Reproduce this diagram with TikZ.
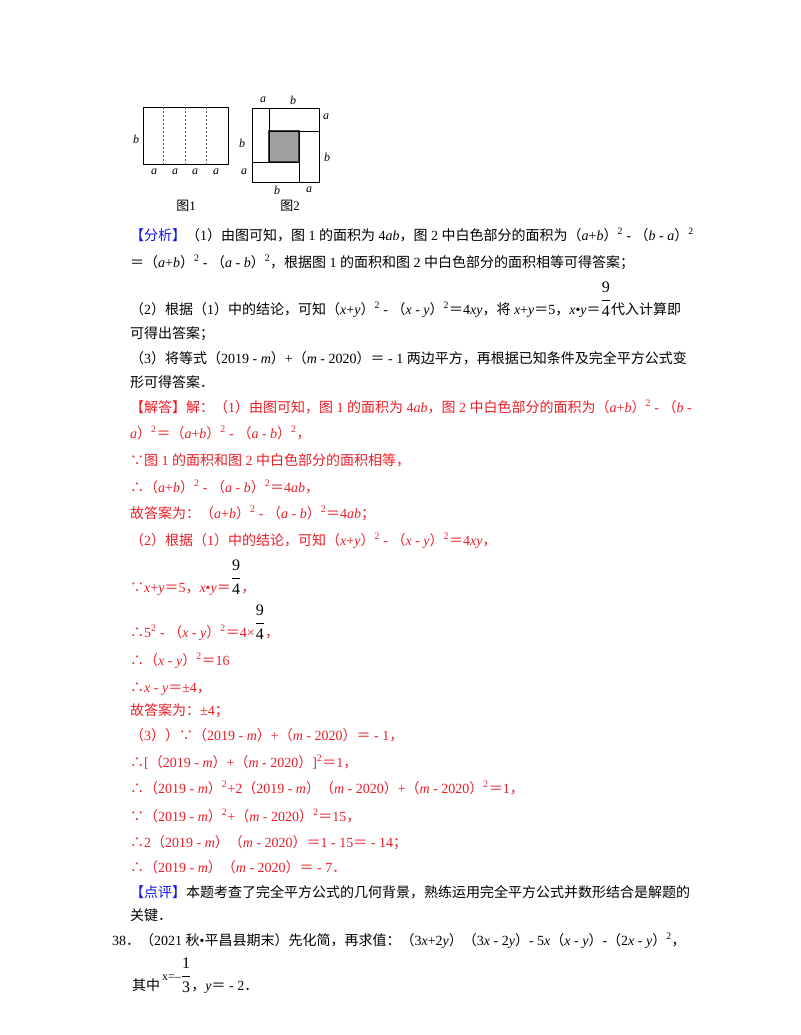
\documentclass[tikz,border=0pt]{standalone}
\usepackage{fontspec}
\setmainfont{Liberation Serif}
\newfontfamily\cjkf{Noto Sans CJK SC}
\XeTeXinterchartokenstate=1
\newXeTeXintercharclass\cjkclass
\makeatletter
\count@="3000
\loop\ifnum\count@<"A000 \XeTeXcharclass\count@=\cjkclass \advance\count@ by 1 \repeat
\count@="FF00
\loop\ifnum\count@<"FFF0 \XeTeXcharclass\count@=\cjkclass \advance\count@ by 1 \repeat
\XeTeXcharclass"2234=\cjkclass
\XeTeXcharclass"2235=\cjkclass
\makeatother
\XeTeXinterchartoks 0 \cjkclass = {\cjkf}
\XeTeXinterchartoks 4095 \cjkclass = {\cjkf}
\XeTeXinterchartoks \cjkclass 0 = {\rmfamily}
\XeTeXinterchartoks \cjkclass 4095 = {\rmfamily}
\definecolor{rd}{RGB}{235,30,40}
\definecolor{bl}{RGB}{20,20,235}
\newcommand{\I}[1]{\textit{#1}}
\newcommand{\sq}{\textsuperscript{2}}
\newcommand{\fr}[2]{{\color{black}\fontsize{16}{16}\selectfont\raisebox{9.5pt}{$\displaystyle{\hbox{#1}\above 0.9pt\hbox{#2}}$}}}
\tikzset{ln/.style={anchor=base west,inner sep=0pt,font=\fontsize{14}{16}\selectfont},
 r/.style={ln,text=rd},
 lab/.style={inner sep=0pt,font=\fontsize{12}{12}\selectfont\itshape},
 fig/.style={line width=0.9pt}}
\begin{document}
\begin{tikzpicture}[x=1pt,y=-1pt]
\useasboundingbox[fill=white] (0,0) rectangle (800,1035);
% figure 1
\draw[fig] (143,107) rectangle (228,164);
\foreach \xx in {163,185,206}{\draw[dashed,gray!70!black,line width=0.9pt,dash pattern=on 2.5pt off 1.5pt] (\xx,107)--(\xx,164);}
\node[lab] (f1b) at (136,139) {b};
\foreach \xx/\nm in {154/a1,175/a2,195/a3,216/a4}{\node[lab] (\nm) at (\xx,172) {a};}
\node[inner sep=0pt,font=\fontsize{13}{13}\selectfont] (c1) at (186,206) {图1};
% figure 2
\draw[fig,fill=gray!75,draw=black!75,line width=1.3pt] (269,131) rectangle (299,162);
\draw[fig] (252,108) rectangle (319,182);
\draw[fig] (269,108)--(269,162) (269,131)--(319,131) (299,131)--(299,182) (252,162)--(299,162);
\node[lab] (g1) at (263,100) {a};
\node[lab] (g2) at (293,100) {b};
\node[lab] (g3) at (326,117) {a};
\node[lab] (g4) at (242,143) {b};
\node[lab] (g5) at (327,157) {b};
\node[lab] (g6) at (244,172) {a};
\node[lab] (g7) at (277,190) {b};
\node[lab] (g8) at (309,190) {a};
\node[inner sep=0pt,font=\fontsize{13}{13}\selectfont] (c2) at (290,206) {图2};
% analysis
\node[ln] (t1) at (130,240) {\textcolor{bl}{【分析】}（1）由图可知，图 1 的面积为 4\I{ab}，图 2 中白色部分的面积为（\I{a}+\I{b}）\sq\ - （\I{b} - \I{a}）\sq};
\node[ln] (t2) at (130,267) {＝（\I{a}+\I{b}）\sq\ - （\I{a} - \I{b}）\sq，根据图 1 的面积和图 2 中白色部分的面积相等可得答案；};
\node[ln] (t3) at (130,314) {（2）根据（1）中的结论，可知（\I{x}+\I{y}）\sq\ - （\I{x} - \I{y}）\sq＝4\I{xy}，将 \I{x}+\I{y}＝5，\I{x}•\I{y}＝\fr{9}{4}代入计算即};
\node[ln] (t4) at (130,338) {可得出答案；};
\node[ln] (t5) at (130,363) {（3）将等式（2019 - \I{m}）+（\I{m} - 2020）＝ - 1 两边平方，再根据已知条件及完全平方公式变};
\node[ln] (t6) at (130,387) {形可得答案．};
% answer
\node[r] (s1) at (130,412) {\textcolor{rd}{【解答】}解：（1）由图可知，图 1 的面积为 4\I{ab}，图 2 中白色部分的面积为（\I{a}+\I{b}）\sq\ - （\I{b} -};
\node[r] (s2) at (130,438) {\I{a}）\sq＝（\I{a}+\I{b}）\sq\ - （\I{a} - \I{b}）\sq，};
\node[r] (s3) at (130,465) {∵图 1 的面积和图 2 中白色部分的面积相等，};
\node[r] (s4) at (130,492) {∴（\I{a}+\I{b}）\sq\ - （\I{a} - \I{b}）\sq＝4\I{ab}，};
\node[r] (s5) at (130,518) {故答案为：（\I{a}+\I{b}）\sq\ - （\I{a} - \I{b}）\sq＝4\I{ab}；};
\node[r] (s6) at (130,545) {（2）根据（1）中的结论，可知（\I{x}+\I{y}）\sq\ - （\I{x} - \I{y}）\sq＝4\I{xy}，};
\node[r] (s7) at (130,592) {∵\I{x}+\I{y}＝5，\I{x}•\I{y}＝\fr{9}{4}，};
\node[r] (s8) at (130,637) {∴5\sq\ - （\I{x} - \I{y}）\sq＝4×\fr{9}{4}，};
\node[r] (s9) at (130,665) {∴（\I{x} - \I{y}）\sq＝16};
\node[r] (s10) at (130,692) {∴\I{x} - \I{y}＝±4，};
\node[r] (s11) at (130,715) {故答案为：±4；};
\node[r] (s12) at (130,740) {（3））∵（2019 - \I{m}）+（\I{m} - 2020）＝ - 1，};
\node[r] (s13) at (130,767) {∴[（2019 - \I{m}）+（\I{m} - 2020）]\sq＝1，};
\node[r] (s14) at (130,793) {∴（2019 - \I{m}）\sq+2（2019 - \I{m}）（\I{m} - 2020）+（\I{m} - 2020）\sq＝1，};
\node[r] (s15) at (130,821) {∵（2019 - \I{m}）\sq+（\I{m} - 2020）\sq＝15，};
\node[r] (s16) at (130,847) {∴2（2019 - \I{m}）（\I{m} - 2020）＝1 - 15＝ - 14；};
\node[r] (s17) at (130,872) {∴（2019 - \I{m}）（\I{m} - 2020）＝ - 7．};
\node[ln] (p1) at (130,897) {\textcolor{bl}{【点评】}本题考查了完全平方公式的几何背景，熟练运用完全平方公式并数形结合是解题的};
\node[ln] (p2) at (130,920) {关键．};
\node[ln] (q1) at (112,945) {38．（2021 秋•平昌县期末）先化简，再求值：（3\I{x}+2\I{y}）（3\I{x} - 2\I{y}）- 5\I{x}（\I{x} - \I{y}）-（2\I{x} - \I{y}）\sq，};
\node[ln] (q2) at (132,990) {其中\raisebox{10pt}{\fontsize{12}{12}\selectfont\,x=–}\fr{1}{3}，\I{y}＝ - 2．};
\end{tikzpicture}
\end{document}
